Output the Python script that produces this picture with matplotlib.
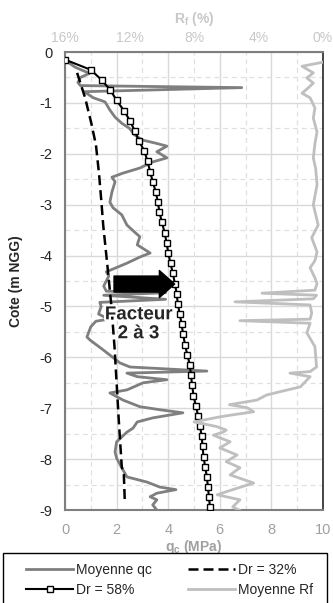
import matplotlib
matplotlib.use("Agg")
import matplotlib.pyplot as plt
from matplotlib.lines import Line2D
from matplotlib.patches import FancyArrowPatch, ArrowStyle, Rectangle
import matplotlib.patheffects as pe

plt.rcParams['font.family'] = ['Liberation Sans', 'DejaVu Sans']
plt.rcParams['mathtext.fontset'] = 'custom'
plt.rcParams['mathtext.rm'] = 'Liberation Sans'
plt.rcParams['mathtext.bf'] = 'Liberation Sans:bold'
plt.rcParams['axes.unicode_minus'] = False

# Moyenne qc (MPa) en fonction de la cote (m NGG)
qc_val = [0.05, 0.4, 0.95, 0.6, 0.5, 0.6, 6.85, 0.75, 0.95, 1.1, 1.55, 1.74, 1.94, 2.2,
          2.5, 2.7, 3.0, 3.5, 3.95, 3.56, 3.95, 3.4, 2.9, 2.25, 1.82, 1.94, 1.82, 1.74,
          1.86, 2.2, 2.4, 2.7, 2.9, 2.8, 3.3, 2.9, 2.4, 1.6, 1.7, 1.5, 1.6, 3.9, 1.5,
          3.9, 1.35, 1.4, 1.3, 1.7, 1.2, 1.0, 0.85, 0.97, 1.47, 2.13, 2.52, 5.5, 2.4,
          2.8, 3.95, 3.03, 2.4, 1.74, 2.25, 2.9, 3.68, 4.57, 3.4, 2.8, 2.64, 2.4, 2.0,
          1.94, 2.0, 2.2, 2.4, 3.17, 3.68, 4.3, 3.56, 3.3, 3.56, 3.4, 3.56]
qc_z = [-0.18, -0.3, -0.42, -0.5, -0.6, -0.66, -0.70, -0.78, -0.85, -0.9, -0.98, -1.14,
        -1.28, -1.4, -1.5, -1.63, -1.73, -1.79, -1.85, -1.96, -2.08, -2.16, -2.28, -2.38,
        -2.46, -2.55, -2.75, -2.95, -3.06, -3.2, -3.4, -3.54, -3.63, -3.79, -3.95, -4.03,
        -4.15, -4.32, -4.4, -4.6, -4.7, -4.73, -4.78, -4.86, -4.92, -5.0, -5.15, -5.25,
        -5.29, -5.4, -5.6, -5.66, -5.85, -6.11, -6.19, -6.27, -6.31, -6.38, -6.44, -6.5,
        -6.64, -6.7, -6.84, -6.97, -7.03, -7.09, -7.19, -7.27, -7.39, -7.47, -7.66, -7.86,
        -7.98, -8.17, -8.35, -8.45, -8.55, -8.6, -8.67, -8.74, -8.8, -8.9, -9.0]

# Moyenne Rf (%)
rf_val = [0.0, 1.3, 0.6, 1.0, 0.6, 0.9, 1.3, 0.8, 0.5, 0.6, 0.37, 0.5, 0.6, 0.45, 0.37,
          0.6, 0.3, 0.7, 0.37, 0.5, 0.8, 0.5, 0.37, 0.5, 3.78, 0.4, 0.6, 5.46, 0.8, 0.7,
          0.8, 5.15, 0.8, 1.0, 0.5, 0.4, 0.8, 2.05, 0.8, 1.4, 2.2, 3.5, 4.1, 5.8, 4.7,
          4.3, 5.6, 6.4, 8.0, 6.6, 6.0, 6.2, 6.8, 5.76, 6.4, 5.33, 6.0, 5.15, 5.76, 4.3,
          5.6, 6.56, 5.15, 5.6, 5.2]
rf_z = [-0.2, -0.28, -0.41, -0.51, -0.61, -0.7, -0.81, -0.9, -1.1, -1.3, -1.57, -1.8,
        -2.08, -2.3, -2.61, -3.0, -3.4, -3.65, -3.93, -4.1, -4.24, -4.44, -4.55, -4.68,
        -4.74, -4.78, -4.85, -4.91, -4.97, -5.13, -5.25, -5.28, -5.33, -5.52, -5.79,
        -6.19, -6.28, -6.31, -6.38, -6.58, -6.64, -6.74, -6.84, -6.93, -6.99, -7.07,
        -7.13, -7.17, -7.27, -7.36, -7.43, -7.47, -7.53, -7.66, -7.78, -7.92, -8.05,
        -8.17, -8.31, -8.47, -8.6, -8.7, -8.8, -8.94, -9.0]

# Dr = 32 %
dr32_val = [0.47, 0.78, 1.02, 1.2, 1.32, 1.42, 1.48, 1.64, 1.8, 1.92, 2.0, 2.08, 2.13,
            2.2, 2.28, 2.32]
dr32_z = [-0.41, -0.9, -1.4, -1.83, -2.4, -3.0, -3.4, -4.18, -5.0, -5.8, -6.5, -7.2,
          -7.6, -8.15, -8.3, -8.86]

# Dr = 58 %
dr58_val = [0.0, 1.0, 1.42, 1.76, 2.0, 2.28, 2.52, 2.7, 2.87, 3.08, 3.2, 3.3, 3.4, 3.52,
            3.6, 3.66, 3.76, 3.86, 3.94, 4.0, 4.09, 4.18, 4.26, 4.33, 4.37, 4.45, 4.52,
            4.58, 4.65, 4.74, 4.84, 4.88, 4.93, 4.98, 5.07, 5.16, 5.23, 5.3, 5.33, 5.37,
            5.43, 5.5, 5.54, 5.58, 5.62]
dr58_z = [-0.15, -0.35, -0.55, -0.75, -0.95, -1.15, -1.35, -1.55, -1.75, -1.95, -2.15,
          -2.35, -2.55, -2.75, -2.95, -3.15, -3.35, -3.55, -3.75, -3.95, -4.15, -4.35,
          -4.55, -4.75, -4.95, -5.15, -5.35, -5.55, -5.75, -5.95, -6.15, -6.35, -6.55,
          -6.75, -6.95, -7.15, -7.35, -7.55, -7.75, -7.95, -8.15, -8.35, -8.55, -8.75,
          -8.95]

qc_ticks = [0, 2, 4, 6, 8, 10]
rf_ticks = [16, 12, 8, 4, 0]
z_ticks = [0, -1, -2, -3, -4, -5, -6, -7, -8, -9]

fig = plt.figure(figsize=(3.33, 6.03), dpi=100)
ax = fig.add_axes([65 / 333, 1 - 510 / 603, 258 / 333, 458 / 603])

ax.set_xlim(0, 10)
ax.set_ylim(-9, 0)
ax.set_xticks(qc_ticks)
ax.set_xticks([1, 3, 5, 7, 9], minor=True)
ax.set_yticks(z_ticks)
ax.set_yticks([-0.5 - i for i in range(9)], minor=True)
ax.grid(which='major', color='#d9d9d9', lw=1, ls='-')
ax.grid(which='minor', color='#e0e0e0', lw=0.9, ls=(0, (4, 3)))
ax.set_axisbelow(True)
ax.tick_params(which='both', length=0)
ax.tick_params(axis='x', labelsize=10.5, labelcolor='#a0a0a0', pad=9)
ax.tick_params(axis='y', labelsize=10.5, labelcolor='#262626', pad=9)

ax.plot(qc_val, qc_z, color='#7f7f7f', lw=2, zorder=2)
ax.plot(dr32_val, dr32_z, color='black', lw=1.8, ls=(0, (4, 2)), zorder=3)
ax.plot(dr58_val, dr58_z, color='black', lw=1.5, marker='s', ms=4, mfc='white',
        mec='black', mew=1, zorder=4)

arrow = FancyArrowPatch((1.9, -4.56), (4.25, -4.56),
                        arrowstyle=ArrowStyle.Simple(head_length=11, head_width=19.5,
                                                     tail_width=11.5),
                        mutation_scale=1, shrinkA=0, shrinkB=0, color='black', zorder=5)
ax.add_patch(arrow)
ax.text(2.85, -5.35, 'Facteur\n2 à 3', ha='center', va='center', fontsize=13.5,
        fontweight='bold', color='#262626', linespacing=1.15, zorder=6,
        path_effects=[pe.withStroke(linewidth=3, foreground='white')])

ax.set_ylabel('Cote (m NGG)', fontsize=10, fontweight='bold', color='#262626', labelpad=12)
ax.set_xlabel('q$_\\mathbf{c}$ (MPa)', fontsize=10, fontweight='bold', color='#a0a0a0',
              labelpad=1)

for s in ['left', 'bottom', 'top']:
    ax.spines[s].set_color('#7f7f7f')
    ax.spines[s].set_linewidth(1.5)
ax.spines['right'].set_color('#262626')
ax.spines['right'].set_linewidth(1.2)

ax2 = ax.twiny()
ax2.set_xlim(16, 0)
ax2.set_xticks(rf_ticks)
ax2.set_xticklabels([f'{t}%' for t in rf_ticks])
ax2.tick_params(length=0, labelsize=10, labelcolor='#c8c8c8', pad=5)
ax2.plot(rf_val, rf_z, color='#bfbfbf', lw=2, zorder=2)
ax2.set_xlabel('R$_\\mathbf{f}$ (%)', fontsize=10, fontweight='bold', color='#c8c8c8',
               labelpad=6)
for s in ax2.spines.values():
    s.set_visible(False)

# cadre de la légende (coupé en bas comme dans l'original)
fig.patches.append(Rectangle((3 / 333, -0.02), 324 / 333, 0.02 + 50 / 603,
                             transform=fig.transFigure, fill=False, edgecolor='black',
                             lw=1))

handles = [
    Line2D([], [], color='#7f7f7f', lw=2),
    Line2D([], [], color='black', lw=1.5, marker='s', ms=4, mfc='white', mec='black'),
    Line2D([], [], color='black', lw=1.8, ls=(0, (4, 2))),
    Line2D([], [], color='#bfbfbf', lw=2),
]
labels = ['Moyenne qc', 'Dr = 58%', 'Dr = 32%', 'Moyenne Rf']
leg = fig.legend(handles, labels, ncol=2, loc='upper left',
                 bbox_to_anchor=(26 / 333, 1 - 563 / 603),
                 fontsize=10, frameon=False, handlelength=3.4, handletextpad=0.2,
                 labelspacing=0.45, borderpad=0, borderaxespad=0, columnspacing=2.6)
for t in leg.get_texts():
    t.set_color('#262626')

fig.savefig('out.png', dpi=100)
